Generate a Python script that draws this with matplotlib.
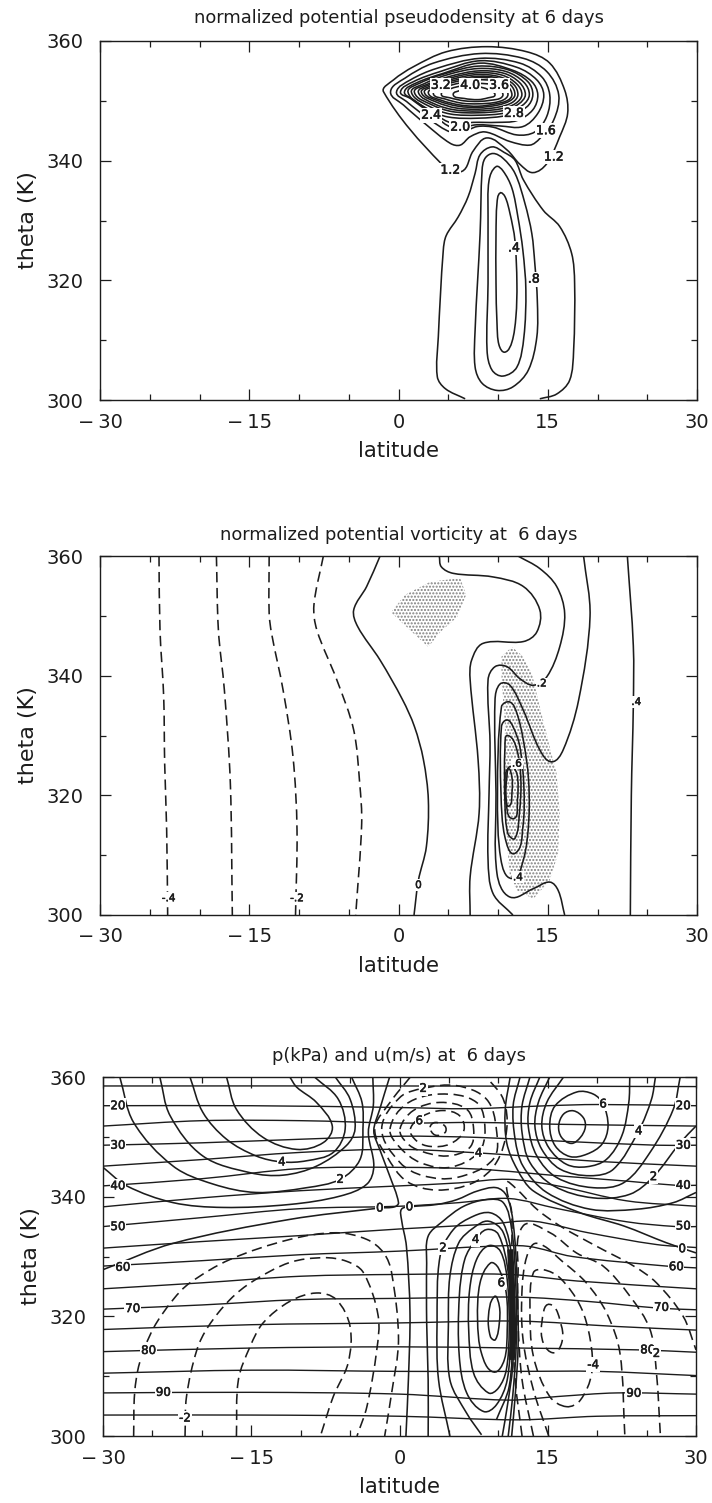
import numpy as np
import matplotlib
matplotlib.use("Agg")
import matplotlib.pyplot as plt
import matplotlib.patheffects as pe
from matplotlib.path import Path
from matplotlib.patches import PathPatch, Polygon
from matplotlib.ticker import MultipleLocator

# contours as (latitude, theta) pairs

# ---- top panel: pseudodensity
pd_04 = [(10.2,334.6),(10.7,334.0),(11.2,331.2),(11.7,326.7),(11.9,319.5),(11.8,313.9),(11.4,309.7),(10.7,308.0),(10.1,309.2),(9.9,312.8),(9.8,319.5),(9.8,327.8),(9.9,332.9)]
pd_06 = [(9.8,339.0),(10.5,338.3),(11.4,335.4),(12.0,330.6),(12.5,325.0),(12.8,318.4),(12.6,310.5),(11.9,305.5),(10.5,304.0),(9.4,305.0),(8.9,308.3),(9.0,319.5),(9.0,330.6),(9.1,336.7)]
pd_08 = [(9.5,341.2),(10.5,340.4),(11.7,337.9),(12.7,332.9),(13.4,327.8),(13.7,322.8),(13.95,316.7),(13.9,310.5),(13.05,305.0),(11.5,302.2),(9.9,301.6),(8.4,302.8),(7.7,305.5),(7.7,311.7),(8.2,327.8),(8.4,338.4),(8.7,340.4)]
pd_10 = [(6.7,300.2),(4.7,301.9),(3.9,303.9),(4.0,310.5),(4.5,325.0),(4.8,327.5),(6.0,330.6),(7.0,334.0),(7.7,337.9),(8.2,341.0),(9.4,342.3),(10.6,341.4),(11.7,340.1),(12.55,336.8),(14.55,331.7),(16.2,329.0),(17.4,324.5),(17.7,319.5),(17.6,308.3),(17.2,303.3),(15.9,301.0),(14.2,300.2)]
pd_12 = [(4.3,339.5),(-1.5,351.5),(-0.5,353.5),(1.5,355.7),(4.8,358.2),(8.9,359.05),(12.9,358.2),(15.2,356.3),(16.7,351.8),(17.0,347.9),(16.2,344.0),(14.9,339.5),(13.5,338.0),(12.2,339.4),(10.9,341.8),(8.9,343.8),(7.5,341.6),(6.35,338.2)]
pd_14 = [(-0.8,351.5),(0.66,353.8),(3.5,356.3),(8.2,357.9),(12.55,357.1),(14.9,354.9),(16.1,351.0),(15.6,346.8),(14.2,343.7),(13.2,342.6),(11.2,343.2),(8.7,344.8),(7.2,344.0),(6.2,342.6),(5.2,342.9),(2.8,346.0),(0.5,349.3)]
pd_16 = [(-0.2,351.5),(1.2,353.5),(3.8,355.4),(8.2,357.1),(12.2,356.3),(14.4,354.0),(15.2,351.0),(14.9,347.4),(13.7,344.8),(11.9,344.3),(9.5,345.6),(7.9,345.7),(6.5,344.8),(5.2,344.8),(3.2,346.8),(0.8,349.9)]
pd_18 = [(0.2,351.5),(1.5,353.2),(4.2,354.9),(8.2,356.7),(11.9,355.6),(13.9,353.5),(14.6,351.0),(14.0,347.9),(12.5,345.7),(10.2,345.8),(7.9,346.0),(5.5,345.5),(3.5,347.6),(1.2,350.4)]
pd_20 = [(0.6,351.5),(1.8,353.0),(4.5,354.6),(8.2,356.3),(11.5,355.1),(13.4,353.2),(14.0,351.0),(13.5,348.5),(11.9,346.7),(9.9,346.4),(7.5,346.4),(5.5,346.2),(3.5,347.9),(1.5,350.2)]
pd_22 = [(0.96,351.4),(2.2,353.0),(4.8,354.6),(8.0,355.8),(11.0,355.2),(13.0,353.2),(13.5,351.0),(12.9,349.0),(11.0,347.6),(8.0,347.1),(5.0,347.3),(3.0,348.6)]
pd_24 = [(1.3,351.4),(2.5,352.8),(5.0,354.4),(8.0,355.4),(10.8,354.9),(12.6,353.1),(13.15,351.0),(12.5,349.3),(10.8,348.0),(8.0,347.6),(5.2,347.8),(3.2,349.0)]
pd_26 = [(1.6,351.4),(2.8,352.7),(5.2,354.1),(8.0,355.0),(10.6,354.6),(12.2,353.0),(12.75,351.0),(12.1,349.5),(10.6,348.4),(8.0,348.0),(5.4,348.2),(3.4,349.3)]
pd_28 = [(2.0,351.4),(3.0,352.6),(5.4,353.9),(8.0,354.7),(10.4,354.3),(11.9,352.8),(12.4,351.0),(11.8,349.6),(10.4,348.7),(8.0,348.3),(5.6,348.5),(3.6,349.5)]
pd_30 = [(2.3,351.4),(3.3,352.5),(5.6,353.7),(8.0,354.4),(10.2,354.0),(11.6,352.7),(12.0,351.0),(11.5,349.8),(10.2,349.0),(8.0,348.6),(5.8,348.8),(3.8,349.8)]
pd_32 = [(2.6,351.4),(3.6,352.4),(5.8,353.5),(8.0,354.1),(10.0,353.8),(11.3,352.6),(11.7,351.0),(11.2,350.0),(10.0,349.3),(8.0,348.9),(6.0,349.1),(4.0,350.0)]
pd_34 = [(3.0,351.3),(4.0,352.3),(6.0,353.3),(8.0,353.9),(9.8,353.6),(11.0,352.4),(11.4,351.0),(11.0,350.1),(9.8,349.5),(8.0,349.1),(6.2,349.3),(4.3,350.1)]
pd_36 = [(3.5,351.2),(4.5,352.2),(6.2,353.0),(8.0,353.5),(9.6,353.3),(10.7,352.2),(11.0,351.0),(10.6,350.2),(9.6,349.7),(8.0,349.5),(6.4,349.6),(4.7,350.3)]
pd_38 = [(4.3,351.1),(5.2,352.0),(6.6,352.6),(8.0,352.9),(9.4,352.7),(10.2,351.9),(10.5,351.0),(10.2,350.4),(9.3,350.1),(8.0,349.9),(6.6,350.0),(5.2,350.5)]
pd_40 = [(5.5,351.0),(6.4,351.8),(8.0,352.3),(9.0,351.9),(9.7,351.0),(9.0,350.5),(8.0,350.2),(6.6,350.4)]
pd_closed = [pd_04,pd_06,pd_08,pd_12,pd_14,pd_16,pd_18,pd_20,pd_22,pd_24,pd_26,pd_28,pd_30,pd_32,pd_34,pd_36,pd_38,pd_40]
pd_labels = [(4.24,352.6,"3.2"),(7.2,352.6,"4.0"),(10.1,352.6,"3.6"),(3.27,347.6,"2.4"),(11.6,347.9,"2.8"),(6.2,345.6,"2.0"),(14.8,345.0,"1.6"),(15.6,340.6,"1.2"),(5.2,338.4,"1.2"),(11.6,325.4,".4"),(13.6,320.2,".8")]

# ---- middle panel: potential vorticity
pv_m4 = [(-24.07,360),(-23.97,347.6),(-23.6,336.5),(-23.5,325.3),(-23.3,314.2),(-23.2,300)]
pv_m3 = [(-18.3,360),(-18.1,347.6),(-17.5,337.6),(-16.9,322),(-16.7,300)]
pv_m2 = [(-13,360),(-13,350.4),(-12.75,347),(-11.6,337.6),(-10.6,326.4),(-10.2,314.2),(-10.35,300)]
pv_m1 = [(-7.55,360),(-8.5,351.8),(-8.2,347.6),(-6.2,339.3),(-4.5,330.9),(-3.9,322),(-3.7,315.3),(-4.3,300)]
pv_00 = [(-1.85,360),(-3.2,354.9),(-4.5,351),(-4.1,348.2),(-1.85,342.6),(0.4,336),(1.6,331.5),(2.5,326),(3,319.2),(2.8,311.4),(2,305.8),(1.56,300)]
pv_01 = [(4.1,360),(4.3,358.2),(5.5,357.1),(9.5,356.5),(12.55,354.9),(14.2,351),(13.9,347.3),(12.55,345.7),(8.5,345.4),(7.35,342.6),(7.2,339.3),(8,325.9),(8.1,317),(7.2,306.4),(7.2,300)]
pv_02 = [(12,360),(14.2,357.9),(15.9,354.9),(16.7,350.4),(16.2,344.8),(14.9,339.8),(13.55,338.4),(12.2,339.5),(10.9,341.5),(9.7,341.5),(9,339.3),(9.2,328.7),(9.1,320.3),(9,309.2),(9.5,303.6),(11.5,300)]
pv_03 = [(18.6,360),(19.25,349.9),(18.1,335.9),(16.55,327.6),(15.4,325.6),(14.2,327.6),(12.55,334.2),(11.2,338.4),(10.2,338.6),(9.7,335.9),(9.8,320.3),(9.9,306.9),(11.2,303),(13.55,304.4),(15.2,305.5),(16.05,304.1),(16.7,300)]
pv_04 = [(23,360),(23.6,345),(23.6,335),(23.4,320),(23.3,300)]
pv_a = [(11.2,335.6),(10.35,334.8),(9.95,320.3),(10.3,309.2),(11.4,306.1),(12.55,309.2),(13.1,316),(13.05,323.1),(12.55,329.2),(11.9,333.7)]
pv_b = [(10.9,332.6),(10.35,331.5),(10.3,320.3),(10.7,313),(11.7,310.3),(12.5,314.7),(12.6,321.4),(12.2,328.1),(11.5,331.5)]
pv_c = [(11,330),(10.7,328.1),(10.7,318.6),(11,313.6),(11.7,312.8),(12.15,317),(12.3,322.5),(11.9,327.6)]
pv_d = [(11.2,324.8),(10.9,323.1),(10.8,319.2),(11.5,316.1),(11.95,319.2),(11.9,323.6)]
pv_e = [(11.0,324.4),(10.8,322.4),(10.8,319.8),(11.1,318.2),(11.4,320.4),(11.4,323)]
pv_dashed = [pv_m4,pv_m3,pv_m2,pv_m1]
pv_open = [pv_00,pv_01,pv_02,pv_03,pv_04]
pv_closed = [pv_a,pv_b,pv_c,pv_d,pv_e]
pv_shade_top = [(-0.75,350.6),(0.65,353.5),(3.2,355.7),(6.2,356.3),(6.8,353.5),(5.9,349.8),(4.2,347.3),(3,344.8),(1.15,347.6)]
pv_shade_low = [(11.4,344.8),(12.4,343.4),(13.4,340.4),(14.2,334.8),(15.2,328.1),(15.9,323.6),(16.2,317),(16.05,310.3),(15.2,305.8),(13.55,302.7),(11.9,304.1),(11.2,306.4),(10.9,312),(10.5,320.3),(10.7,331.5),(10.35,339.8),(10.35,343.2)]
pv_labels = [(-23.1,302.8,"-.4"),(-10.2,302.8,"-.2"),(2,305,"0"),(14.4,338.7,".2"),(11.9,325.3,".6"),(12,306.3,".4"),(23.9,335.6,".4")]

# ---- bottom panel: pressure (horizontal solid lines)
p_15 = [(-30,358.5),(0,358.5),(30,358.4)]
p_20 = [(-30,355.2),(-15,355.2),(0,354.9),(7,354.7),(15,355.2),(20,355.4),(30,355.2)]
p_25 = [(-30,351.8),(-20,352.7),(-10,352.7),(0,352.3),(8,352.4),(16,352.1),(30,351.8)]
p_30 = [(-30,348.6),(-20,349),(-10,349.6),(0,350.1),(8,349.9),(16,349.3),(26,348.6),(30,348.6)]
p_35 = [(-30,345.1),(-20,346.2),(-10,347.4),(0,347.9),(10,347.1),(20,345.9),(30,345.1)]
p_40 = [(-30,341.8),(-20,343),(-10,344.7),(0,344.9),(8,344.6),(16,343.5),(23,342.6),(28,341.9),(30,341.9)]
p_45 = [(-30,338.3),(-20,339.8),(-10,341),(0,341.8),(6,342.3),(11,342.9),(16,341.8),(23,339.3),(30,338.4)]
p_50 = [(-30,335),(-20,336.5),(-10,338),(0,338.4),(6,339),(11,339.7),(16,338),(23,335.8),(28,335),(30,335)]
p_55 = [(-30,331.4),(-20,332.5),(-10,333.5),(0,334.6),(9,335.4),(13.5,335.9),(19,334),(26,332),(30,331.5)]
p_60 = [(-30,328.4),(-20,329.3),(-10,330.3),(0,330.9),(9,331.7),(13,331.7),(17.5,330),(27,328.4),(30,328.1)]
p_65 = [(-30,324.6),(-20,325.6),(-10,326.7),(0,327),(11,327),(18,325.9),(30,324.6)]
p_70 = [(-30,321.2),(-20,321.9),(-10,322.8),(0,323),(12,323.2),(19,322.5),(26,321.4),(30,321.1)]
p_75 = [(-30,317.8),(-15,318.6),(0,318.9),(12,319.2),(22,318.3),(30,317.7)]
p_80 = [(-30,314.1),(-15,314.7),(0,314.9),(12,314.7),(24,314.4),(30,314)]
p_85 = [(-30,310.5),(-15,311),(0,310.8),(12,310.8),(20,310.8),(30,310.1)]
p_90 = [(-30,307.2),(-15,307.3),(0,307),(11,306),(16,306.6),(22,307.2),(30,307)]
p_95 = [(-30,303.5),(-15,303.5),(0,303.3),(12,302.7),(20,303.3),(30,303.4)]
p_lines = [p_15,p_20,p_25,p_30,p_35,p_40,p_45,p_50,p_55,p_60,p_65,p_70,p_75,p_80,p_85,p_90,p_95]

# zonal wind, upper left lobe
ul_5 = [(-17.5,360),(-16.5,354.6),(-13.8,349.9),(-10.4,347.9),(-7.7,349.05),(-6.8,351.8),(-8.4,355.75),(-10.4,358.3),(-11.1,360)]
ul_4 = [(-21.2,360),(-19.9,354.1),(-17.5,349.6),(-14.5,346.8),(-11.9,345.8),(-9.4,346),(-6.7,347.4),(-5.5,351.3),(-6.2,356.3),(-8.6,360)]
ul_3 = [(-24.25,360),(-23.2,353.5),(-19.9,346.8),(-15.1,344),(-11.75,343.6),(-8.4,345.1),(-5.4,348.5),(-4.5,351.3),(-5,356.3),(-6.5,360)]
ul_2 = [(-28.3,360),(-26.9,352.4),(-22.9,345.1),(-18.85,342.1),(-14.5,340.7),(-9.4,341.5),(-6,342.9),(-4,346.2),(-3.7,351.3),(-3.8,355.8),(-4.85,360)]
ul_1 = [(-30,344.9),(-27.6,341.8),(-22.9,339),(-17.85,338.2),(-11.1,338.7),(-6,340.1),(-3.3,342.1),(-2.6,345.1),(-3.15,350.7),(-2.65,355.2),(-2.7,360)]
ul_0 = [(-1,360),(-2,354.6),(-2.6,351),(-2,347.9),(-1,343.5),(-0.1,339),(-0.5,338.3),(-2,338.1),(-11.1,336.2),(-22.9,332.2),(-30,327.8)]
# upper right lobe
ur_5 = [(16.6,360),(14.9,355.75),(14.4,351.8),(15.1,348.2),(16.9,345.4),(18.95,345),(20.95,346.25),(22.5,350.2),(23.2,355.75),(23.3,360)]
ur_4 = [(15.2,360),(14.05,355.75),(13.7,351.8),(14.4,347.9),(16.25,344.6),(19.3,343.5),(21.65,344.6),(24.2,351),(25.5,356.3),(25.9,360)]
ur_3 = [(14.2,360),(13.2,355.75),(13.04,351.6),(13.9,346.8),(15.9,343.2),(19.6,341.5),(22.7,342.35),(25.35,347.4),(27.7,354.6),(28.4,360)]
ur_2 = [(13.2,360),(12.4,355.2),(12.4,350.7),(13.2,345.7),(15.6,341.8),(19.6,339.8),(23.3,340.4),(25.7,343.35),(28.4,349),(30,351.8)]
ur_1 = [(12.2,360),(11.5,355.2),(11.7,349.6),(12.5,345.1),(14.9,340.7),(19.3,337.9),(24,337.9),(27.7,339),(30,340.7)]
ur_0 = [(11.2,360),(10.7,354.6),(10.85,349),(11.9,344.6),(13.55,340.95),(18.3,337.3),(22.7,335.1),(27,332.3),(30,330.6)]
ur_7 = [(16.1,351.8),(16.6,353.8),(17.6,354.35),(18.6,353.2),(18.8,351.6),(18.3,349.9),(17.4,348.9),(16.4,349.9)]
ur_6 = [(15.2,351.8),(15.75,355.2),(17.95,357.5),(19.6,357.15),(20.6,355.5),(21.1,351.8),(20.5,348.8),(18.95,347.1),(17.25,346.7),(15.75,348.5)]
# lower centre lobe, ending in the jet
lc_7 = [(9.6,323.3),(9,320),(9.2,316.6),(9.7,316.1),(10.1,318.9),(10.1,321.7)]
lc_6 = [(9.5,310.7),(8.3,313.8),(7.9,319.4),(8.15,325.6),(9.2,328.9),(10,328.1),(10.8,323.9),(10.9,317.8),(10.6,312.7)]
lc_5 = [(9,307.2),(7.5,310.5),(7,317.8),(7.1,324.5),(7.8,329.5),(9,331.8),(10.2,330.9),(10.9,326.1),(11.1,317.8),(10.8,311),(10,308)]
lc_4 = [(8.5,304.1),(6.8,307.2),(6.05,313.3),(6.05,323.3),(6.6,329.5),(7.7,332.8),(8.8,334.5),(10,333.7),(11,327.3),(11.25,317.8),(10.9,309.4),(9.8,305.2)]
lc_3 = [(8.3,300.2),(6.8,303.8),(5.1,309.4),(4.95,318.9),(5.1,326.7),(6,332.3),(7.5,334.8),(9,335.9),(10.5,334),(11.3,327.3),(11.45,317.8),(11.1,308.3),(9.8,302.7)]
lc_2 = [(5.1,300),(3.95,309.4),(3.8,318.9),(4.1,330),(5.45,334.5),(7.5,336.75),(9.2,337.3),(10.5,335.6),(11.35,330),(11.6,320.6),(11.45,311.6),(10.9,304.9),(10.4,300)]
lc_1 = [(2.9,300),(2.9,309.4),(2.75,318.9),(2.75,328.9),(2.9,333.4),(4.4,335.9),(6.5,338.4),(8.8,339.5),(10.5,339),(11.35,334.5),(11.75,326.1),(11.8,315),(11.45,306.6),(11,300)]
lc_0 = [(0.65,300),(0.9,309.4),(1.06,320.6),(0.7,331.7),(0.2,336.2),(0.2,337.9),(1.06,338.3),(3.8,338.7),(5.8,339.5),(7.8,340.9),(9.8,341.5),(10.85,340.1),(11.5,335.6),(11.9,326.1),(12,315),(11.7,306.6),(11.35,300)]
jet_core = [(11.2,331.2),(11.35,326.1),(11.45,320.6),(11.5,316.6),(11.35,312.7)]
# negative u, right of the jet
rn_1 = [(12.4,300),(11.7,309.4),(11.45,318.9),(11.35,329.5),(11.35,337.3),(10.85,342.35),(11.7,341.5),(13.9,337.9),(16.25,335.1),(19.95,331.7),(23.7,328.4),(26,325.6),(28.7,320),(30,314.4)]
rn_2 = [(13.55,300),(12.4,309.4),(12,318.9),(12,327.3),(12.5,335.1),(15.2,334),(17.9,330.6),(20.6,328.4),(23.3,323.4),(25.35,317.8),(26,310.5),(26.4,300)]
rn_3 = [(15.1,300),(13.55,307.7),(12.5,316.1),(12.4,324.5),(12.9,330.1),(13.9,332.2),(16.6,329),(18.9,325.6),(20.95,320.6),(22.3,313.9),(22.8,300)]
rn_4 = [(16.9,304.9),(15.2,306.6),(13.55,313.3),(13.2,321.7),(13.55,327.3),(14.55,327.8),(16.25,326.4),(18.3,321.7),(19.3,316.1),(19.45,310.5),(18.3,306)]
rn_5 = [(15.2,322),(14.4,318.9),(14.56,315.5),(15.6,313.9),(16.4,315.5),(16.4,318.3)]
# negative u, lower left
ln_1 = [(-26.9,300),(-26.8,307.15),(-26.3,312.2),(-24.9,318),(-22.9,322.8),(-21.2,325.6),(-17.15,329.5),(-11.1,332.85),(-6.4,333.97),(-3.3,332.85),(-1.6,330.6),(-0.8,327.3),(-0.1,316.1),(-0.8,307.15),(-1.5,300)]
ln_2 = [(-21.7,300),(-21.55,306.6),(-20.5,314.4),(-19.35,318.3),(-17.15,322.8),(-14.8,325.9),(-11.1,329),(-7.7,329.8),(-5.35,329.2),(-3.65,327.3),(-2.15,320),(-2.3,314.4),(-3.3,304.9),(-4.3,300)]
ln_3 = [(-16.5,300),(-16.3,309.4),(-15.1,315),(-13.8,318.9),(-11.1,322.5),(-8.4,323.9),(-6.4,322.8),(-5,318.3),(-5.2,312.2),(-6.7,306.6),(-8,300)]
# negative u, upper centre
un_1 = [(1.1,360),(-0.96,355.75),(-2.5,351.3),(-1.3,346.8),(0.7,342.6),(3.8,341.1),(7.5,342.35),(9.8,345.7),(10.85,351.3),(10.5,356.3),(8.8,360)]
un_2 = [(-1.8,351.3),(0.05,356.6),(2.4,358.1),(5.8,358.55),(8.8,356.3),(9.8,351.3),(9.5,346.3),(5.8,343.2),(2.4,343.5),(0.05,345.7)]
un_3 = [(-0.96,351.3),(0.7,355.5),(4.1,357.15),(7.8,355.75),(8.65,351.3),(8,347.4),(5.1,344.9),(2.1,345.7),(0.05,348.2)]
un_4 = [(0.05,351.3),(1.4,354.4),(4.1,355.75),(6.8,354.6),(7.5,351.3),(7.1,348.2),(4.8,346.8),(2.1,347.65),(0.7,349.05)]
un_5 = [(1.1,351.3),(2.4,353.5),(4.4,354.4),(6.1,353.5),(6.5,351),(5.1,348.8),(3.1,348.4),(1.74,349.3)]
un_6 = [(3.1,351.6),(3.6,352.4),(4.6,351.8),(4.6,350.7),(3.6,350.3)]

u_solid_open = [ul_5,ul_4,ul_3,ul_2,ul_1,ul_0,ur_5,ur_4,ur_3,ur_2,ur_1,ur_0,lc_3,lc_2,lc_1,lc_0]
u_solid_closed = [ur_7,ur_6,lc_7,lc_6,lc_5,lc_4]
u_dash_open = [rn_1,rn_2,rn_3,ln_1,ln_2,ln_3,un_1]
u_dash_closed = [rn_4,rn_5,un_2,un_3,un_4,un_5,un_6]
u_labels = [(-28.5,355.2,"20"),(-28.5,348.6,"30"),(-28.5,341.8,"40"),(-28.5,335,"50"),(-28,328.2,"60"),(-27,321.3,"70"),(-25.4,314.3,"80"),(-23.9,307.3,"90"),
            (28.7,355.2,"20"),(28.7,348.6,"30"),(28.7,341.9,"40"),(28.7,335.1,"50"),(28,328.3,"60"),(26.5,321.5,"70"),(25.1,314.4,"80"),(23.7,307.15,"90"),
            (-21.7,303,"-2"),(-11.9,345.8,"4"),(-6,342.9,"2"),(-2,338.1,"0"),(1,338.3,"0"),(2.4,358.1,"2"),(2,352.7,"6"),(8,347.3,"4"),(20.6,355.5,"6"),(24.2,351,"4"),
            (25.7,343.35,"2"),(28.6,331.3,"0"),(4.4,331.45,"2"),(7.7,332.85,"4"),(10.3,325.6,"6"),(19.6,311.9,"-4"),(26,313.8,"2")]

ink = "#1c1c1c"
W, H = 712, 1503
fig = plt.figure(figsize=(W/100, H/100), dpi=100)


def smooth(pts, closed=False):
    # bezier through the read points
    p = np.array(pts, dtype=float)
    s = np.array([1.0, 0.6])
    q = p*s
    n = len(q)
    if closed:
        prev = np.roll(q, 1, axis=0)
        nxt = np.roll(q, -1, axis=0)
    else:
        prev = np.vstack([q[0], q[:-1]])
        nxt = np.vstack([q[1:], q[-1]])
    t = nxt-prev
    t = t/(np.linalg.norm(t, axis=1, keepdims=True)+1e-9)
    verts = [p[0]]
    codes = [Path.MOVETO]
    for i in range(n if closed else n-1):
        j = (i+1) % n
        d = np.linalg.norm(q[j]-q[i])/3
        verts += [(q[i]+t[i]*d)/s, (q[j]-t[j]*d)/s, p[j]]
        codes += [Path.CURVE4]*3
    return Path(verts, codes)


def line(ax, pts, closed=False, dashed=False, lw=1.15):
    ls = (0, (6.5, 3.5)) if dashed else "-"
    ax.add_patch(PathPatch(smooth(pts, closed), fill=False, edgecolor=ink, lw=lw, ls=ls, zorder=3))


def labels(ax, items, size):
    for x, y, s in items:
        ax.text(x, y, s, fontsize=size, ha="center", va="center", color=ink, zorder=5,
                bbox=dict(facecolor="white", edgecolor="none", pad=0.6),
                path_effects=[pe.withStroke(linewidth=0.4, foreground=ink)])


def panel(x0, x1, y0, y1, title, tpad):
    ax = fig.add_axes([x0/W, 1-y1/H, (x1-x0)/W, (y1-y0)/H])
    ax.set_xlim(-30, 30)
    ax.set_ylim(300, 360)
    ax.xaxis.set_major_locator(MultipleLocator(15))
    ax.xaxis.set_minor_locator(MultipleLocator(5))
    ax.yaxis.set_major_locator(MultipleLocator(20))
    ax.yaxis.set_minor_locator(MultipleLocator(10))
    ax.tick_params(which="both", direction="in", top=True, right=True, width=0.9, color=ink)
    ax.tick_params(which="major", length=8)
    ax.tick_params(which="minor", length=4.3)
    ax.tick_params(axis="x", which="major", labelsize=14, pad=9, labelcolor=ink)
    ax.tick_params(axis="y", which="major", labelsize=14, pad=12, labelcolor=ink)
    ax.set_xticks([-30, -15, 0, 15, 30], ["\u2212\u200930", "\u2212\u200915", "0", "15", "30"])
    ax.set_xlabel("latitude", fontsize=15.2, color=ink, labelpad=6.5)
    ax.set_ylabel("theta (K)", fontsize=16, color=ink, labelpad=6)
    ax.set_title(title, fontsize=12.9, color=ink, pad=tpad)
    for sp in ax.spines.values():
        sp.set_linewidth(1.0)
        sp.set_color(ink)
    return ax


ax1 = panel(100, 697, 41, 400, "normalized potential pseudodensity at 6 days", 13)
for c in pd_closed:
    line(ax1, c, closed=True)
line(ax1, pd_10)
labels(ax1, pd_labels, 9)

ax2 = panel(100, 697, 556, 915, "normalized potential vorticity at  6 days", 11.5)
for blob in [pv_shade_top, pv_shade_low]:
    ax2.add_patch(Polygon(blob, closed=True, facecolor="none", edgecolor="#808080", lw=0, hatch=".....", zorder=1))
for c in pv_dashed:
    line(ax2, c, dashed=True)
for c in pv_open:
    line(ax2, c)
for c in pv_closed:
    line(ax2, c, closed=True)
labels(ax2, pv_labels, 7.5)

ax3 = panel(103, 696, 1077, 1436, "p(kPa) and u(m/s) at  6 days", 11.5)
for c in p_lines:
    line(ax3, c, lw=1.0)
for c in u_solid_open:
    line(ax3, c)
for c in u_solid_closed:
    line(ax3, c, closed=True)
for c in u_dash_open:
    line(ax3, c, dashed=True)
for c in u_dash_closed:
    line(ax3, c, closed=True, dashed=True)
line(ax3, jet_core, lw=4.5)
labels(ax3, u_labels, 8.5)

fig.savefig("out.png", dpi=100, facecolor="white")
